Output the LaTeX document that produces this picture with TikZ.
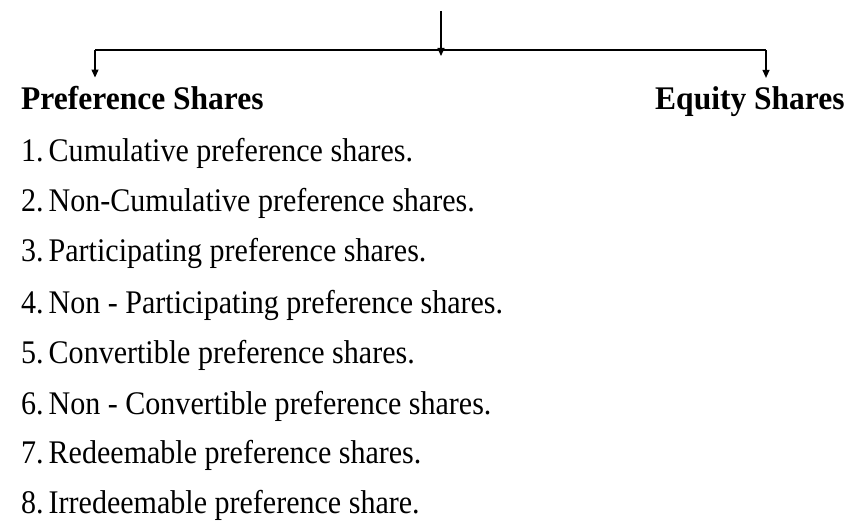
\documentclass[tikz,border=0pt]{standalone}
\usepackage{fontspec}
\setmainfont{Liberation Serif}
\newfontfamily\itemfont[FakeStretch=0.91]{Liberation Serif}
\newfontfamily\headfont[FakeStretch=0.955]{Liberation Serif Bold}
\usetikzlibrary{arrows.meta}
\tikzset{
  conn/.style={line width=1.2pt, black},
  arr/.style={conn, -{Triangle[length=8pt,width=7pt]}},
  head/.style={anchor=base west, inner xsep=0pt, inner ysep=9pt, font=\headfont\fontsize{33}{33}\selectfont},
  item/.style={anchor=base west, inner sep=0pt, font=\itemfont\fontsize{33}{33}\selectfont},
}
\newcommand\gp{\hspace{5pt}}
\begin{document}
\begin{tikzpicture}[x=1pt,y=-1pt]
\useasboundingbox (0,0) rectangle (862,521);
\node[head] (pref) at (21,110) {Preference Shares};
\node[head] (equity) at (655,110) {Equity Shares};
\node[item] (i1) at (21,162) {1.\gp Cumulative preference shares.};
\node[item] (i2) at (21,212) {2.\gp Non-Cumulative preference shares.};
\node[item] (i3) at (21,262) {3.\gp Participating preference shares.};
\node[item] (i4) at (21,313) {4.\gp Non - Participating preference shares.};
\node[item] (i5) at (21,363) {5.\gp Convertible preference shares.};
\node[item] (i6) at (21,414) {6.\gp Non - Convertible preference shares.};
\node[item] (i7) at (21,463) {7.\gp Redeemable preference shares.};
\node[item] (i8) at (21,513) {8.\gp Irredeemable preference share.};
\coordinate (top) at (441,11);
\coordinate (junc) at (441,56);
\coordinate (lft) at (95,50);
\coordinate (rgt) at (766,50);
\draw[arr] (top) -- (junc);
\draw[conn] (lft) -- (rgt);
\draw[arr] (lft) -- (lft |- pref.north);
\draw[arr] (rgt) -- (rgt |- equity.north);
\end{tikzpicture}
\end{document}
